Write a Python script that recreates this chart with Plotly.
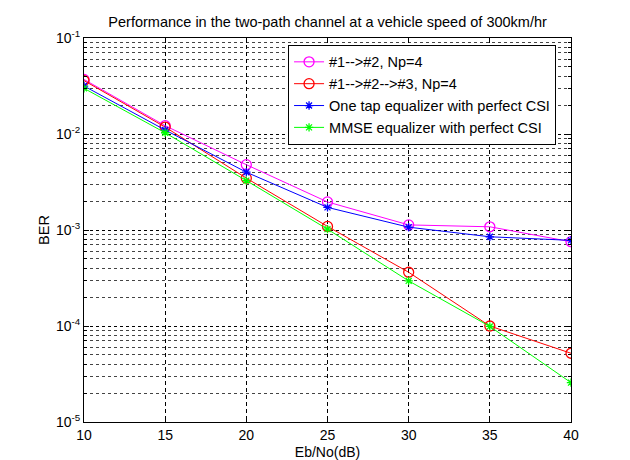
import plotly.graph_objects as go

ebno = [10, 15, 20, 25, 30, 35, 40]
ber_12 = [0.0370, 0.0122, 0.00479, 0.00196, 0.00113, 0.00108, 0.000755]
ber_123 = [0.0360, 0.0118, 0.00347, 0.00109, 0.000363, 0.000100, 0.0000520]
ber_onetap = [0.0316, 0.0110, 0.00400, 0.00172, 0.00107, 0.00085, 0.000780]
ber_mmse = [0.0299, 0.0103, 0.00327, 0.00102, 0.000295, 0.000099, 0.0000257]

names = ["#1-->#2, Np=4", "#1-->#2-->#3, Np=4",
         "One tap equalizer with perfect CSI", "MMSE equalizer with perfect CSI"]
colors = ["#ff00ff", "#ff0000", "#0000ff", "#00ff00"]
symbols = ["circle-open", "circle-open", "asterisk-open", "asterisk-open"]
series = [ber_12, ber_123, ber_onetap, ber_mmse]

ytickvals = [1e-5, 1e-4, 1e-3, 1e-2, 1e-1]
yticktext = ["10<sup>-5</sup>", "10<sup>-4</sup>", "10<sup>-3</sup>",
             "10<sup>-2</sup>", "10<sup>-1</sup>"]
xtickvals = [10, 15, 20, 25, 30, 35, 40]
minor_y = [k * 10.0 ** e for e in range(-5, -1) for k in range(2, 10)]

fig = go.Figure()
for nm, c, s, ys in zip(names, colors, symbols, series):
    fig.add_trace(go.Scatter(
        x=ebno, y=ys, name=nm, mode="lines+markers",
        line=dict(color=c, width=1),
        marker=dict(symbol=s, size=10 if "circle" in s else 7,
                    color=c, line=dict(color=c, width=1.3)),
    ))

font = "Liberation Sans, Arial, sans-serif"
fig.update_layout(
    width=630, height=460,
    margin=dict(l=84, r=59, t=38, b=38),
    paper_bgcolor="white", plot_bgcolor="white",
    font=dict(family=font, size=14, color="black"),
    title=dict(text="Performance in the two-path channel at a vehicle speed of 300km/hr",
               x=0.52, xanchor="center", y=0.952, yanchor="middle",
               font=dict(size=14.5, family=font)),
    showlegend=True,
    legend=dict(x=0.419, y=0.982, xanchor="left", yanchor="top",
                bgcolor="white", bordercolor="black", borderwidth=1,
                font=dict(size=14.5, family=font), tracegroupgap=0,
                itemwidth=30),
    xaxis=dict(range=[10, 40], tickvals=xtickvals, showline=True,
               linecolor="black", linewidth=1, mirror="ticks", ticks="inside",
               ticklen=5, tickcolor="black", showgrid=True, gridcolor="black",
               griddash="4px,3px", gridwidth=1, zeroline=False,
               ticklabelstandoff=0, automargin=False,
               title=dict(text="Eb/No(dB)", standoff=5, font=dict(size=14)),
               tickfont=dict(size=14)),
    yaxis=dict(type="log", range=[-5, -1], tickvals=ytickvals, ticktext=yticktext,
               showline=True, linecolor="black", linewidth=1, mirror="ticks",
               ticks="inside", ticklen=5, tickcolor="black", showgrid=True,
               gridcolor="black", griddash="3px,3px", gridwidth=1,
               automargin=False,
               minor=dict(tickvals=minor_y, showgrid=True, gridcolor="#444444",
                          griddash="3px,3px", ticks="inside", ticklen=3,
                          tickcolor="black"),
               title=dict(text="BER", standoff=2, font=dict(size=14.5)),
               tickfont=dict(size=14)),
)

fig.write_html("out.html")
